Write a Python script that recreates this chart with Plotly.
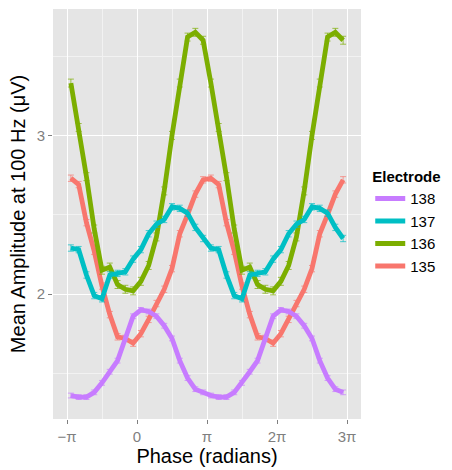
import numpy as np
import plotly.graph_objects as go

# Phase bin centres (degrees), two cycles
phase_deg = [-170, -150, -130, -110, -90, -70, -50, -30, -10, 10, 30, 50, 70, 90, 110, 130, 150, 170,
             190, 210, 230, 250, 270, 290, 310, 330, 350, 370, 390, 410, 430, 450, 470, 490, 510, 530]

amp_135 = [2.73, 2.69, 2.45, 2.27, 2.05, 1.87, 1.73, 1.72, 1.69, 1.75, 1.84, 1.94, 2.03, 2.16, 2.38, 2.50, 2.63, 2.72,
           2.73, 2.69, 2.45, 2.27, 2.05, 1.87, 1.73, 1.72, 1.69, 1.75, 1.84, 1.94, 2.03, 2.16, 2.38, 2.50, 2.63, 2.72]
amp_136 = [3.33, 3.05, 2.74, 2.41, 2.15, 2.17, 2.06, 2.03, 2.02, 2.08, 2.18, 2.36, 2.65, 3.00, 3.33, 3.62, 3.65, 3.60,
           3.33, 3.05, 2.74, 2.41, 2.15, 2.17, 2.06, 2.03, 2.02, 2.08, 2.18, 2.36, 2.65, 3.00, 3.33, 3.62, 3.65, 3.60]
amp_137 = [2.29, 2.28, 2.12, 1.99, 1.97, 2.12, 2.13, 2.14, 2.22, 2.28, 2.38, 2.44, 2.47, 2.55, 2.54, 2.51, 2.42, 2.35,
           2.29, 2.28, 2.12, 1.99, 1.97, 2.12, 2.13, 2.14, 2.22, 2.28, 2.38, 2.44, 2.47, 2.55, 2.54, 2.51, 2.42, 2.35]
amp_138 = [1.36, 1.35, 1.35, 1.38, 1.44, 1.51, 1.58, 1.72, 1.86, 1.90, 1.89, 1.86, 1.80, 1.72, 1.58, 1.47, 1.40, 1.38,
           1.36, 1.35, 1.35, 1.38, 1.44, 1.51, 1.58, 1.72, 1.86, 1.90, 1.89, 1.86, 1.80, 1.72, 1.58, 1.47, 1.40, 1.38]

# standard errors (approx.)
err_135 = 0.02
err_136 = 0.025
err_137 = 0.02
err_138 = 0.015

electrodes = ["135", "136", "137", "138"]
colors = ["#F8766D", "#7CAE00", "#00BFC4", "#C77CFF"]
err_colors = ["rgba(248,118,109,0.7)", "rgba(124,174,0,0.7)", "rgba(0,191,196,0.7)", "rgba(199,124,255,0.7)"]

x_tick_vals = [-np.pi, 0, np.pi, 2 * np.pi, 3 * np.pi]
x_tick_text = ["\u2212\u03c0", "0", "\u03c0", "2\u03c0", "3\u03c0"]
x_minor_vals = [-np.pi / 2, np.pi / 2, 3 * np.pi / 2, 5 * np.pi / 2]
y_tick_vals = [2, 3]
y_minor_vals = [1.5, 2.5, 3.5]

x = np.deg2rad(phase_deg)
series = [amp_135, amp_136, amp_137, amp_138]
errs = [err_135, err_136, err_137, err_138]

fig = go.Figure()
for name, vals, c, ec, e in zip(electrodes, series, colors, err_colors, errs):
    fig.add_trace(go.Scatter(
        x=x, y=vals, name=name, mode="lines",
        line=dict(color=c, width=4.8),
        error_y=dict(type="constant", value=e, color=ec, thickness=1, width=3),
    ))

font_family = "Liberation Sans, Arial, sans-serif"
fig.update_layout(
    width=452, height=470,
    margin=dict(l=53, r=88, t=9, b=46),
    paper_bgcolor="white", plot_bgcolor="#E5E5E5",
    font=dict(family=font_family, color="black"),
    legend=dict(
        title=dict(text="<b>Electrode</b>", font=dict(size=15)),
        traceorder="reversed", font=dict(size=15),
        x=1.03, xanchor="left", y=0.625, yanchor="top",
        itemwidth=30, tracegroupgap=0, bgcolor="rgba(0,0,0,0)",
    ),
    showlegend=True,
)
fig.update_xaxes(
    range=[-1.2 * np.pi, 3.2 * np.pi],
    tickmode="array", tickvals=x_tick_vals, ticktext=x_tick_text,
    ticks="outside", ticklen=4, tickcolor="#7F7F7F", tickwidth=1,
    tickfont=dict(size=15, color="#7F7F7F"),
    showgrid=True, gridcolor="white", gridwidth=1.2, zeroline=False, showline=False,
    minor=dict(tickvals=x_minor_vals, showgrid=True, gridcolor="#F2F2F2", gridwidth=0.6, ticks=""),
    title=dict(text="Phase (radians)", font=dict(size=20), standoff=2),
)
fig.update_yaxes(
    range=[1.212, 3.797],
    tickmode="array", tickvals=y_tick_vals,
    ticks="outside", ticklen=4, tickcolor="#7F7F7F", tickwidth=1,
    tickfont=dict(size=15, color="#7F7F7F"),
    showgrid=True, gridcolor="white", gridwidth=1.2, zeroline=False, showline=False,
    minor=dict(tickvals=y_minor_vals, showgrid=True, gridcolor="#F2F2F2", gridwidth=0.6, ticks=""),
    title=dict(text="Mean Amplitude at 100 Hz (\u03bcV)", font=dict(size=20), standoff=5),
)

fig.write_html("out.html")
